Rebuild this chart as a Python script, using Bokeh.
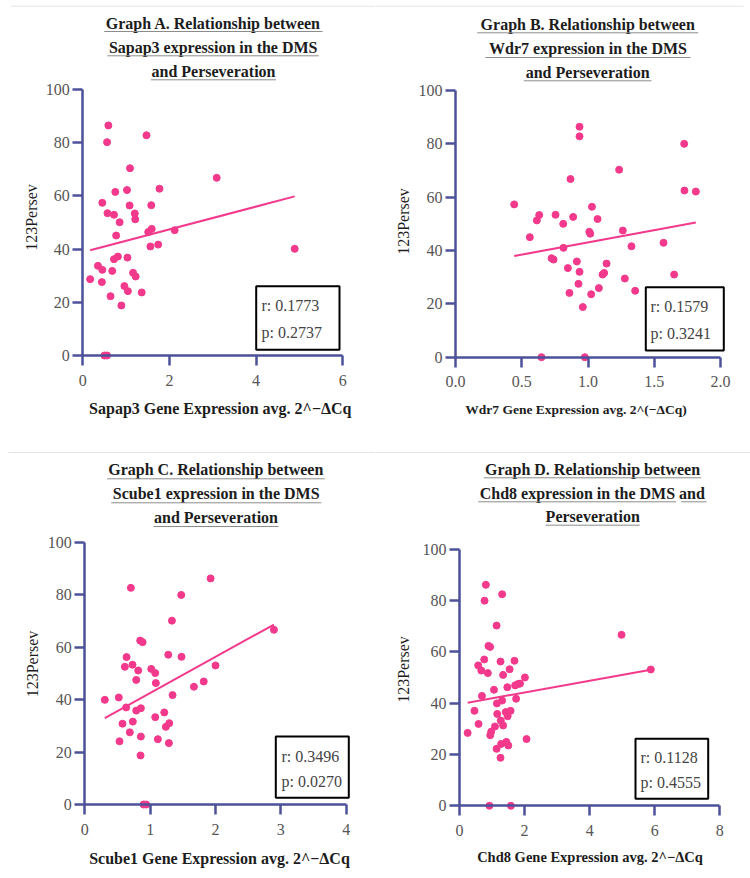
import math
from bokeh.plotting import figure
from bokeh.models import Range1d, FixedTicker, NumeralTickFormatter
from bokeh.layouts import column, row
from bokeh.embed import file_html
from bokeh.resources import INLINE
from bokeh.core.properties import value

# ---------------- data ----------------
A_x = [0.59, 0.56, 1.47, 1.09, 0.75, 1.02, 1.77, 0.45, 1.08, 1.58,
       0.57, 0.72, 1.20, 1.21, 0.85, 0.77, 1.51, 1.59, 2.12, 1.56,
       1.74, 0.81, 0.72, 1.03, 0.35, 0.45, 0.68, 1.16, 1.22, 0.17,
       0.44, 0.96, 1.04, 1.36, 0.64, 0.89, 0.50, 0.56, 3.09, 4.89]
A_y = [86.5, 80.2, 82.8, 70.4, 61.5, 62.2, 62.7, 57.4, 56.4, 56.5,
       53.5, 52.9, 53.4, 51.2, 50.1, 45.1, 46.4, 47.6, 47.1, 41.0,
       41.7, 37.2, 36.2, 36.8, 33.7, 32.2, 31.8, 31.1, 29.7, 28.7,
       27.6, 26.1, 24.2, 23.7, 22.3, 18.8, 0, 0, 66.8, 40.1]
A_fit = (4.295, 38.81)          # slope, intercept
A_stats = ["r: 0.1773", "p: 0.2737"]

B_x = [0.936, 0.936, 0.868, 0.443, 1.03, 0.632, 0.614, 0.755, 0.813, 0.888,
       1.072, 1.01, 1.017, 0.561, 0.815, 0.725, 0.74, 0.916, 1.14, 0.848,
       0.936, 1.11, 1.122, 0.928, 1.082, 0.86, 1.024, 0.961, 0.649, 0.976,
       1.726, 1.728, 1.814, 1.235, 1.263, 1.328, 1.57, 1.65, 1.278, 1.356]
B_y = [86.4, 82.8, 66.8, 57.3, 56.4, 53.3, 51.3, 53.4, 50.0, 52.6,
       51.8, 47.0, 46.3, 45.0, 41.0, 37.1, 36.6, 35.9, 35.1, 33.4,
       32.0, 31.0, 31.6, 27.5, 25.9, 24.1, 23.6, 18.8, 0, 0,
       80.0, 62.5, 62.1, 70.3, 47.5, 41.6, 42.9, 31.0, 29.5, 24.9]
B_fit = (9.2, 33.85)
B_stats = ["r: 0.1579", "p: 0.3241"]

C_x = [1.925, 0.705, 1.476, 1.333, 0.848, 0.884, 1.277, 1.48, 0.639, 0.613,
       0.73, 0.817, 1.017, 1.078, 2.0, 0.787, 1.087, 1.67, 1.82, 1.343,
       0.306, 0.52, 0.633, 0.787, 0.858, 1.216, 1.078, 0.735, 0.577, 1.292,
       1.24, 0.689, 0.858, 1.118, 1.287, 0.531, 0.853, 0.90, 0.94, 2.894]
C_y = [86.2, 82.6, 79.9, 70.1, 62.5, 61.9, 57.1, 56.3, 56.2, 52.5,
       53.3, 51.1, 51.7, 50.1, 53.0, 47.5, 46.3, 44.9, 46.9, 41.7,
       39.9, 40.8, 37.0, 35.8, 36.7, 35.1, 33.3, 31.6, 30.8, 31.0,
       29.6, 27.5, 25.9, 24.9, 23.4, 24.1, 18.7, 0, 0, 66.6]
C_fit = (13.8, 28.68)
C_stats = ["r: 0.3496", "p: 0.0270"]

D_x = [0.81, 0.77, 1.31, 1.14, 0.89, 0.94, 0.76, 1.26, 1.69, 0.575,
       0.67, 0.87, 1.54, 1.34, 2.01, 1.79, 1.86, 1.47, 1.71, 1.06,
       0.69, 1.74, 1.31, 1.15, 0.46, 1.16, 1.42, 1.57, 1.48, 1.27,
       1.34, 0.585, 1.09, 0.975, 0.945, 0.25, 2.06, 1.28, 1.44, 1.50,
       1.14, 1.26, 0.92, 1.58, 4.98, 5.88]
D_y = [86.1, 79.9, 82.4, 70.2, 62.3, 61.9, 57.0, 56.2, 56.5, 54.7,
       52.7, 51.7, 53.2, 51.0, 50.0, 47.4, 47.6, 46.2, 46.9, 45.2,
       42.8, 41.7, 41.0, 39.9, 37.0, 35.8, 36.5, 37.0, 34.9, 33.2,
       31.3, 31.9, 30.9, 28.9, 27.5, 28.4, 26.0, 24.1, 24.9, 23.5,
       22.2, 18.7, 0, 0, 66.6, 53.1]
D_fit = (2.277, 39.61)
D_stats = ["r: 0.1128", "p: 0.4555"]

Y_TICKS = [0, 20, 40, 60, 80, 100]
A_ticks = [0, 2, 4, 6]
B_ticks = [0, 0.5, 1.0, 1.5, 2.0]
C_ticks = [0, 1, 2, 3, 4]
D_ticks = [0, 2, 4, 6, 8]

# ---------------- style ----------------
PINK = "#f2398c"
AXIS = "#4d5199"
SERIF = "Liberation Serif"
DARK = "#1c1c1c"
GRAY = "#555555"
W, H = 375, 439


def make_panel(spec):
    fx, fy = spec["origin"]
    x0px = spec["x0px"]
    xppu = spec["xppu"]
    y0px = spec["y0px"]
    yppu = spec["yppu"]

    def X(px):
        return (px - x0px) / xppu

    def Y(py):
        return (y0px - py) / yppu

    # frame covers the whole figure; axes are pinned at 0
    p = figure(width=W, height=H,
               x_range=Range1d(X(fx), X(fx + W)),
               y_range=Range1d(Y(fy + H), Y(fy)),
               min_border_left=0, min_border_right=0,
               min_border_top=0, min_border_bottom=0,
               output_backend="svg", toolbar_location=None)
    p.outline_line_color = None
    p.xgrid.visible = False
    p.ygrid.visible = False
    p.background_fill_color = "white"
    p.border_fill_color = "white"

    # separator line
    sx0, sx1, sy = spec["sep"]
    p.segment(x0=[X(sx0)], x1=[X(sx1)], y0=[Y(sy)], y1=[Y(sy)],
              line_color="#e4e4e4", line_width=1)

    # axes
    p.xaxis.fixed_location = 0
    p.yaxis.fixed_location = 0
    p.xaxis.bounds = (0, spec["ticks"][-1])
    p.yaxis.bounds = (0, 100)
    p.xaxis.ticker = FixedTicker(ticks=spec["ticks"])
    p.yaxis.ticker = FixedTicker(ticks=Y_TICKS)
    p.xaxis.formatter = NumeralTickFormatter(format=spec["fmt"])
    for ax in (p.xaxis[0], p.yaxis[0]):
        ax.axis_line_color = AXIS
        ax.axis_line_width = 2.5
        ax.major_tick_line_color = AXIS
        ax.major_tick_line_width = 2.5
        ax.major_tick_out = 10
        ax.major_tick_in = 0
        ax.minor_tick_line_color = None
        ax.major_label_text_font = SERIF
        ax.major_label_text_font_size = "16px"
        ax.major_label_text_color = GRAY
    p.xaxis.major_label_standoff = 9
    p.yaxis.major_label_standoff = 3

    # data
    xs, ys = spec["x"], spec["y"]
    slope, icpt = spec["fit"]
    lx = [min(xs), max(xs)]
    ly = [icpt + slope * v for v in lx]
    p.line(lx, ly, line_color=PINK, line_width=2)
    p.scatter(xs, ys, size=7, color=PINK, line_color=PINK)

    # title (underlined lines)
    tl = spec["title"]
    p.text(x=[X(c) for (_, _, c) in tl], y=[Y(m) for (_, m, _) in tl],
           text=[t for (t, _, _) in tl],
           text_align="center", text_baseline="middle",
           text_font=value(SERIF), text_font_style="bold",
           text_font_size=value("16px"), text_color=DARK)
    ul = spec["underlines"]
    p.segment(x0=[X(a) for (a, _, _) in ul], x1=[X(b) for (_, b, _) in ul],
              y0=[Y(u) for (_, _, u) in ul], y1=[Y(u) for (_, _, u) in ul],
              line_color="#8c8c8c", line_width=1)

    # axis titles
    cx, cy = spec["xlabel_pos"]
    p.text(x=[X(cx)], y=[Y(cy)], text=[spec["xlabel"]],
           text_align="center", text_baseline="middle",
           text_font=value(SERIF), text_font_style="bold",
           text_font_size=value(spec["xlabel_size"]), text_color=DARK)
    cx, cy = spec["ylabel_pos"]
    p.text(x=[X(cx)], y=[Y(cy)], text=["123Persev"], angle=math.pi / 2,
           text_align="center", text_baseline="middle",
           text_font=value(SERIF), text_font_size=value("16px"), text_color=DARK)

    # stats box
    l, t, r, b = spec["box"]
    p.quad(left=[X(l)], right=[X(r)], top=[Y(t)], bottom=[Y(b)],
           fill_color="white", line_color="black", line_width=2)
    sx, sy1, sy2 = spec["stat_pos"]
    p.text(x=[X(sx), X(sx)], y=[Y(sy1), Y(sy2)], text=spec["stats"],
           text_align="left", text_baseline="middle",
           text_font=value(SERIF), text_font_size=value("16px"),
           text_color="#444444")
    return p


specA = dict(origin=(0, 0), x0px=82.3, xppu=43.33, y0px=355, yppu=2.66,
             ticks=A_ticks, fmt="0", x=A_x, y=A_y, fit=A_fit, stats=A_stats,
             sep=(10, 375, 5.7),
             title=[("Graph A. Relationship between", 22.5, 212.8),
                    ("Sapap3 expression in the DMS", 46.5, 212.7),
                    ("and Perseveration", 70.8, 213)],
             underlines=[(103.7, 322, 31), (107, 318.3, 55.3), (150.3, 275.7, 79.3)],
             xlabel="Sapap3 Gene Expression avg. 2^\u2212\u0394Cq", xlabel_size="16px",
             xlabel_pos=(219.8, 407.7), ylabel_pos=(31, 217),
             box=(255.7, 285.7, 339, 349.3), stat_pos=(261, 305, 331.7))

specB = dict(origin=(375, 0), x0px=455, xppu=132.5, y0px=356.7, yppu=2.667,
             ticks=B_ticks, fmt="0.0", x=B_x, y=B_y, fit=B_fit, stats=B_stats,
             sep=(375, 743, 5.7),
             title=[("Graph B. Relationship between", 23.5, 587.2),
                    ("Wdr7 expression in the DMS", 47.5, 587.5),
                    ("and Perseveration", 71.5, 587.2)],
             underlines=[(476.7, 697.7, 32.3), (485, 690, 57), (523.3, 651, 80.3)],
             xlabel="Wdr7 Gene Expression avg. 2^(\u2212\u0394Cq)", xlabel_size="13.5px",
             xlabel_pos=(575.5, 409.3), ylabel_pos=(402.8, 221),
             box=(645.3, 286.7, 723.3, 350), stat_pos=(650, 306, 333))

specC = dict(origin=(0, 439), x0px=84.3, xppu=65.35, y0px=804, yppu=2.623,
             ticks=C_ticks, fmt="0", x=C_x, y=C_y, fit=C_fit, stats=C_stats,
             sep=(8, 375, 452),
             title=[("Graph C. Relationship between", 469.2, 215.3),
                    ("Scube1 expression in the DMS", 492.9, 215.7),
                    ("and Perseveration", 516.5, 215.5)],
             underlines=[(106.7, 324, 478.3), (110.7, 320.7, 502.3), (153, 278, 526)],
             xlabel="Scube1 Gene Expression avg. 2^\u2212\u0394Cq", xlabel_size="16px",
             xlabel_pos=(219, 857.7), ylabel_pos=(31.7, 663.5),
             box=(275.3, 736, 348.3, 797.3), stat_pos=(281, 755.7, 780.7))

specD = dict(origin=(375, 439), x0px=459, xppu=32.54, y0px=805.3, yppu=2.567,
             ticks=D_ticks, fmt="0", x=D_x, y=D_y, fit=D_fit, stats=D_stats,
             sep=(375, 750, 452),
             title=[("Graph D. Relationship between", 468.5, 592),
                    ("Chd8 expression in the DMS and", 492.5, 591.8),
                    ("Perseveration", 515.5, 592.2)],
             underlines=[(483.3, 700.7, 477.3), (477.7, 675.7, 501.3),
                         (680.7, 706, 501.3), (545, 639.3, 524.7)],
             xlabel="Chd8 Gene Expression avg. 2^\u2212\u0394Cq", xlabel_size="14.5px",
             xlabel_pos=(589.5, 856), ylabel_pos=(402.8, 669),
             box=(635, 738.3, 707.7, 798.3), stat_pos=(640, 756.7, 781.7))

pA = make_panel(specA)
pB = make_panel(specB)
pC = make_panel(specC)
pD = make_panel(specD)

layout = column(row(pA, pB), row(pC, pD))
open("out.html", "w").write(file_html(layout, INLINE))
